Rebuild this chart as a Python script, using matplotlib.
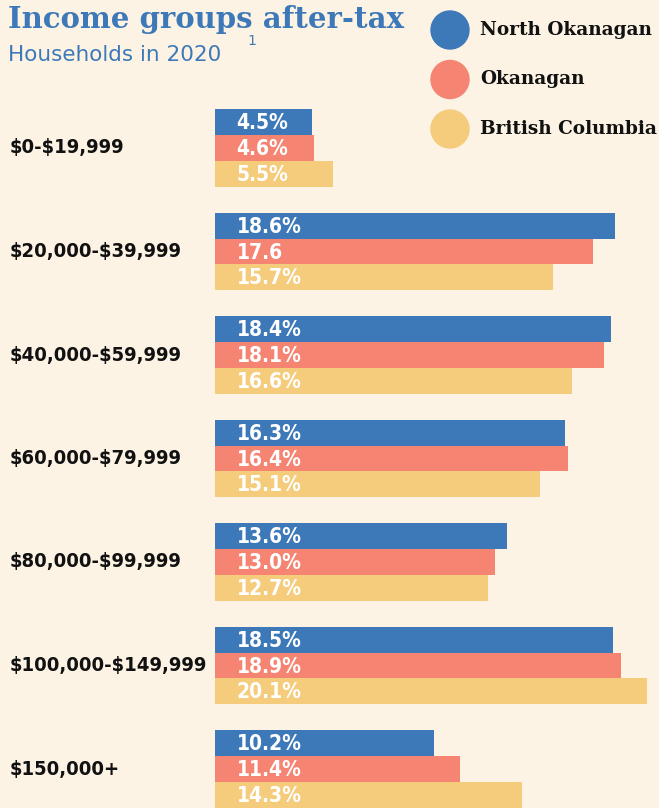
import numpy as np
import matplotlib
matplotlib.use("Agg")
import matplotlib.pyplot as plt
from matplotlib.patches import Circle

plt.rcParams["text.parse_math"] = False

# data
groups = ["$0-$19,999", "$20,000-$39,999", "$40,000-$59,999", "$60,000-$79,999",
          "$80,000-$99,999", "$100,000-$149,999", "$150,000+"]
north_okanagan = [4.5, 18.6, 18.4, 16.3, 13.6, 18.5, 10.2]
okanagan = [4.6, 17.6, 18.1, 16.4, 13.0, 18.9, 11.4]
bc = [5.5, 15.7, 16.6, 15.1, 12.7, 20.1, 14.3]
series_names = ["North Okanagan", "Okanagan", "British Columbia"]
labels_no = ["4.5%", "18.6%", "18.4%", "16.3%", "13.6%", "18.5%", "10.2%"]
labels_ok = ["4.6%", "17.6", "18.1%", "16.4%", "13.0%", "18.9%", "11.4%"]
labels_bc = ["5.5%", "15.7%", "16.6%", "15.1%", "12.7%", "20.1%", "14.3%"]

BG = "#fcf3e4"
BLUE = "#3d79b8"
SALMON = "#f58473"
YELLOW = "#f5cc7c"
colors = [BLUE, SALMON, YELLOW]

W, H = 659, 808
fig = plt.figure(figsize=(W / 100, H / 100), dpi=100, facecolor=BG)

# axes placed in pixel terms: bars start at x=215, 21.5 px per percent
x0 = 215
ax = fig.add_axes([x0 / W, 0, (W - x0) / W, 1])
ax.set_facecolor(BG)
ax.set_xlim(0, (W - x0) / 21.5)
step = 103.5
top_center = 148
ax.set_ylim((H - top_center) / step, -top_center / step)
ax.axis("off")

y = np.arange(len(groups))
bh = 0.25
lab_font = dict(family="DejaVu Sans", fontstretch="condensed", fontweight="bold")
for k, (vals, labs) in enumerate(zip([north_okanagan, okanagan, bc],
                                     [labels_no, labels_ok, labels_bc])):
    yy = y + (k - 1) * bh
    ax.barh(yy, vals, height=bh, color=colors[k], left=0)
    for yi, txt in zip(yy, labs):
        ax.text(1.0, yi + 0.01, txt, color="white", fontsize=15, va="center",
                ha="left", **lab_font)

# category labels
for i, g in enumerate(groups):
    ypx = top_center + i * step
    fig.text(10 / W, 1 - ypx / H, g, fontsize=14.5, color="#111111",
             va="center", ha="left", **lab_font)

# title and subtitle
fig.text(8 / W, 1 - 20 / H, "Income groups after-tax", fontsize=21,
         fontweight="bold", family="DejaVu Serif", color=BLUE,
         va="center", ha="left")
fig.text(8 / W, 1 - 55 / H, "Households in 2020", fontsize=15.5,
         family="DejaVu Sans", color=BLUE, va="center", ha="left")
fig.text(247 / W, 1 - 41 / H, "1", fontsize=10, family="DejaVu Sans",
         color=BLUE, va="center", ha="left")

# legend
for i, (name, c) in enumerate(zip(series_names, colors)):
    cy = 30 + i * 49.5
    fig.add_artist(Circle((450 / 100, (H - cy) / 100), 0.19, color=c,
                          transform=fig.dpi_scale_trans))
    fig.text(480 / W, 1 - cy / H, name, fontsize=13.3, fontweight="bold",
             family="DejaVu Serif", color="#111111", va="center", ha="left")

fig.savefig("out.png", dpi=100, facecolor=BG)
